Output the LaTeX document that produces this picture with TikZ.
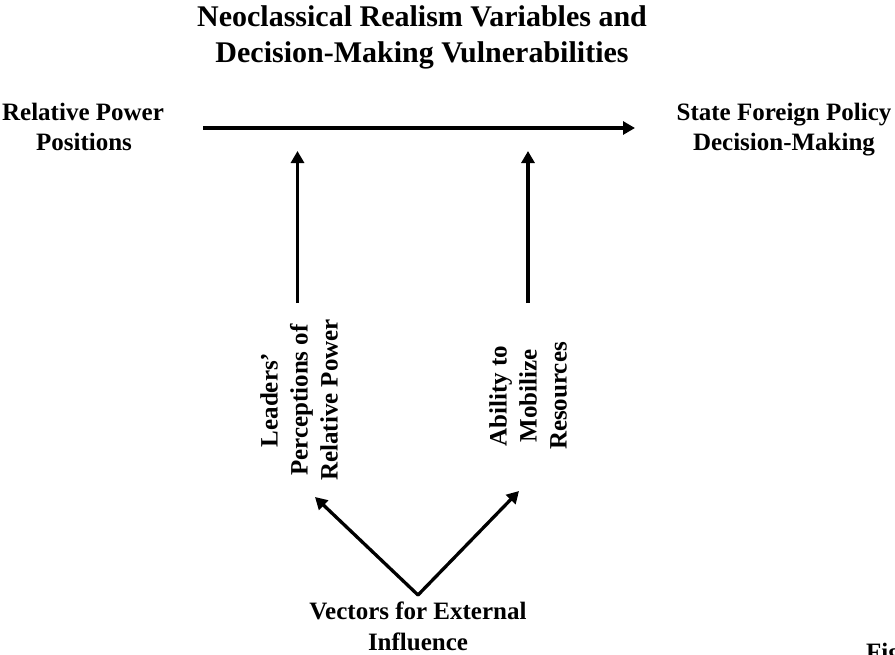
\documentclass[tikz,border=0pt]{standalone}
\usepackage{fontspec}
\setmainfont{Liberation Serif}
\usetikzlibrary{arrows.meta}
\begin{document}
\begin{tikzpicture}[x=1pt,y=-1pt,
  lbl/.style={font=\fontsize{25}{30}\selectfont\bfseries, align=center, inner sep=0pt},
  ttl/.style={font=\fontsize{30}{36}\selectfont\bfseries, inner sep=0pt, anchor=base},
  arr/.style={line width=3.3pt, -{Triangle[length=12pt,width=13pt]}}]
\useasboundingbox (0,0) rectangle (895,654);
% title
\node[ttl] (t1) at (422,26) {Neoclassical Realism Variables and};
\node[ttl] (t2) at (422,62) {Decision-Making Vulnerabilities};
% side labels
\node[lbl, anchor=base] (rpp1) at (83,120) {Relative Power};
\node[lbl, anchor=base] (rpp2) at (84,150) {Positions};
\node[lbl, anchor=base] (sfp1) at (784,120) {State Foreign Policy};
\node[lbl, anchor=base] (sfp2) at (784,150) {Decision-Making};
% rotated labels
\node[lbl, rotate=90] (lead) at (299,400) {Leaders’\\Perceptions of\\Relative Power};
\node[lbl, rotate=90] (abil) at (528,396) {Ability to\\Mobilize\\Resources};
% bottom label
\node[lbl, anchor=base] (vec1) at (418,619) {Vectors for External};
\node[lbl, anchor=base] (vec2) at (418,650) {Influence};
\node[lbl, anchor=base west] (fig) at (866,660) {Fig};
% connector end points
\coordinate (hs) at (203,128);
\coordinate (he) at (635,128);
\coordinate (l0) at (297.5,303);
\coordinate (l1) at (297.5,151);
\coordinate (r0) at (528,303);
\coordinate (r1) at (528,151);
\coordinate (apex) at (418,595);
\coordinate (dl) at (315,497);
\coordinate (dr) at (519,491);
% connectors
\draw[arr] (hs) -- (he);
\draw[arr] (l0) -- (l1);
\draw[arr] (r0) -- (r1);
\draw[arr, line cap=round] (apex) -- (dl);
\draw[arr, line cap=round] (apex) -- (dr);
\end{tikzpicture}
\end{document}
